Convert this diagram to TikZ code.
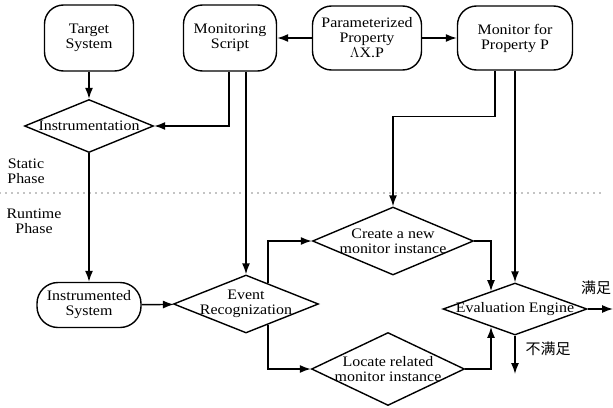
\documentclass[tikz,border=0pt]{standalone}
\usepackage{fontspec}
\setmainfont{Liberation Serif}[FakeStretch=1.1]
\newfontfamily\cjk{Noto Sans CJK SC}
\usepackage{tikz}
\usetikzlibrary{shapes.geometric,arrows.meta,calc}

\begin{document}
\begin{tikzpicture}[x=1pt, y=-1pt,
    font=\fontsize{14.5}{15}\selectfont, line width=1.4pt,
    >={Latex[length=11pt,width=8pt]},
    box/.style={draw, rounded corners=19pt, align=center, inner sep=1pt},
    test/.style={draw, diamond, inner sep=-40pt, align=center},
    flow/.style={->}]
      \useasboundingbox (0,0) rectangle (613,407);

      % Top row
      \node[box, minimum width=89pt, minimum height=66pt] (tgt) at (89,38) {Target\\System};
      \node[box, minimum width=93pt, minimum height=66pt] (script) at (230,38) {Monitoring\\Script};
      \node[box, minimum width=109pt, minimum height=64pt] (param) at (367,38) {Parameterized\\Property\\$\Lambda$X.P};
      \node[box, minimum width=115pt, minimum height=64pt] (monp) at (515,38) {Monitor for\\Property P};

      % Static phase
      \node[test, minimum width=129pt, minimum height=53pt] (instr) at (89,126) {Instrumentation};
      \node[align=center] (static) at (26,171) {Static\\Phase};

      % Phase border
      \coordinate (bl) at (0,193);
      \coordinate (br) at (600,193);
      \draw[line width=1.1pt, line cap=round, dash pattern=on 0pt off 6pt] (bl) -- (br);
      \node[align=center] (runtime) at (34,221) {Runtime\\Phase};

      % Runtime phase
      \node[box, rounded corners=21pt, minimum width=104pt, minimum height=45pt] (isys) at (89,305) {Instrumented\\System};
      \node[test, minimum width=145pt, minimum height=58pt] (event) at (246,304) {Event\\Recognization};
      \node[test, minimum width=161pt, minimum height=68pt] (create) at (393,241) {Create a new\\monitor instance};
      \node[test, minimum width=153pt, minimum height=73pt] (locate) at (388,369) {Locate related\\monitor instance};
      \node[test, minimum width=144pt, minimum height=52pt] (eval) at (515,309) {Evaluation Engine};
      \coordinate (sat) at (613,309);
      \coordinate (unsat) at (515,374);
      \node[font=\cjk\fontsize{15}{15}\selectfont] (satl) at (596,288) {满足};
      \node[font=\cjk\fontsize{15}{15}\selectfont] (unsatl) at (548,349) {不满足};

      % Connectors
      \draw[flow] (param) -- (script);
      \draw[flow] (param) -- (monp);
      \draw[flow] (tgt) -- (instr);
      \draw[flow] ([xshift=-1pt]script.south) |- (instr.east);
      \draw[flow] (script.south -| event.north) -- (event.north);
      \draw[flow] (instr) -- (isys);
      \draw[flow] (isys) -- (event);
      \draw[flow] ($(event.north)!0.3!(event.east)$) |- (create.west);
      \draw[flow] ($(event.south)!0.3!(event.east)$) |- (locate.west);
      \draw[flow] ([xshift=-20pt]monp.south) -- ++(0,46) -| (create.north);
      \draw[flow] (monp.south -| eval.north) -- (eval.north);
      \draw[flow] (create.east) -| ($(eval.north)!0.33!(eval.west)$);
      \draw[flow] (locate.east) -| ($(eval.south)!0.33!(eval.west)$);
      \draw[flow] (eval.east) -- (sat);
      \draw[flow] (eval.south) -- (unsat);
\end{tikzpicture}
\end{document}
